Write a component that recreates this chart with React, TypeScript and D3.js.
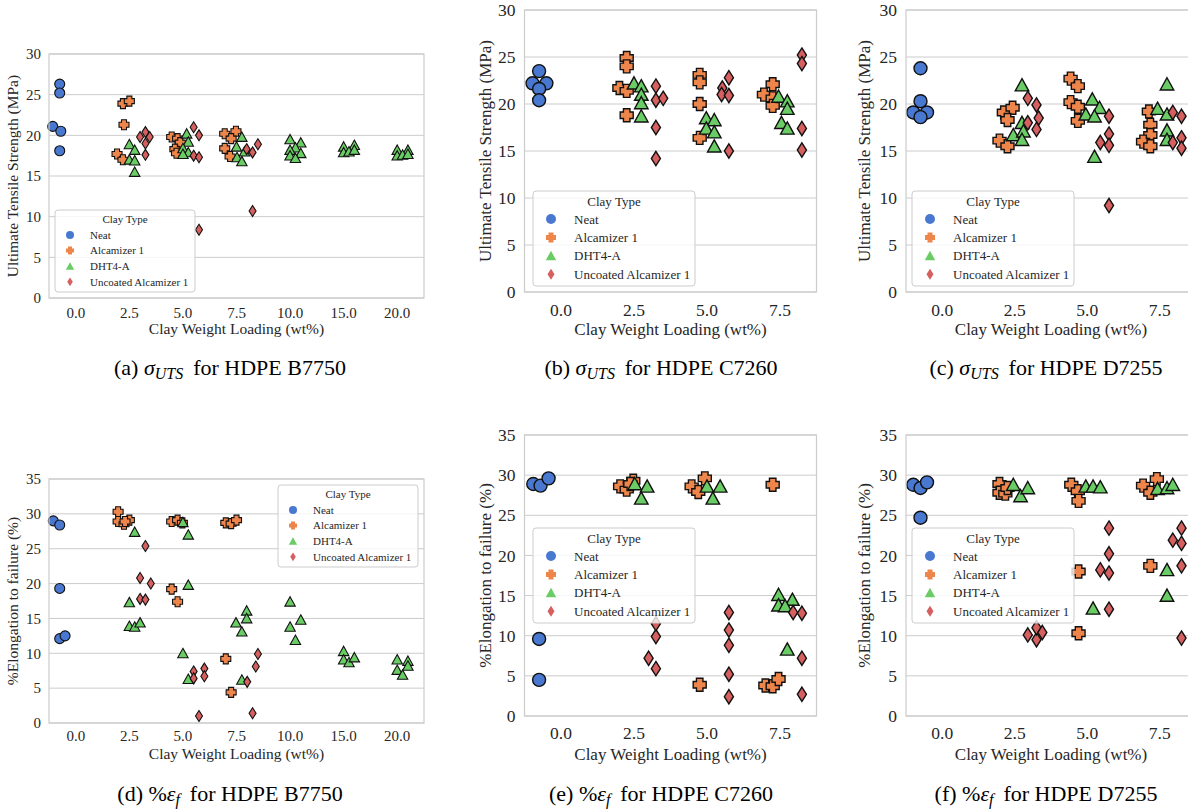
import React from 'react';
import * as d3 from 'd3';

type Pt = [number, number, number]; // [category index, value, swarm offset in category units]

const clayTypes = ['Neat', 'Alcamizer 1', 'DHT4-A', 'Uncoated Alcamizer 1'];
const colors = ['#4878d0', '#ee854a', '#6acc64', '#d65f5f'];
const catsWide = ['0.0', '2.5', '5.0', '7.5', '10.0', '15.0', '20.0'];
const catsNarrow = ['0.0', '2.5', '5.0', '7.5'];
const hueDodge = [-0.3, -0.1, 0.1, 0.3];

// (a) UTS, HDPE B7750
const aNeat: Pt[] = [[0, 21.1, -0.13], [0, 26.3, 0], [0, 25.2, 0], [0, 20.5, 0.02], [0, 18.1, 0]];
const aAlc: Pt[] = [[1, 23.9, -0.02], [1, 24.2, 0.1], [1, 21.3, 0], [1, 17.7, -0.13], [1, 17.0, -0.02],
  [2, 19.8, -0.11], [2, 19.6, 0], [2, 19.1, 0.05], [2, 18.3, -0.05], [2, 17.8, -0.02],
  [3, 20.2, -0.12], [3, 20.5, 0.09], [3, 19.6, 0], [3, 18.4, -0.12], [3, 17.4, -0.02]];
const aDht: Pt[] = [[1, 18.9, -0.1], [1, 18.2, 0], [1, 17.0, -0.1], [1, 16.9, 0], [1, 15.5, 0],
  [2, 20.2, -0.03], [2, 19.2, 0], [2, 18.4, -0.1], [2, 17.9, 0], [2, 17.7, -0.1],
  [3, 19.8, 0], [3, 18.6, -0.1], [3, 18.0, 0.05], [3, 17.3, -0.09], [3, 16.8, 0],
  [4, 19.5, -0.1], [4, 19.1, 0.1], [4, 18.5, 0], [4, 18.2, -0.1], [4, 17.8, 0.1], [4, 17.5, -0.1], [4, 17.2, 0],
  [5, 18.6, -0.1], [5, 18.8, 0.1], [5, 17.9, -0.1], [5, 18.0, 0], [5, 18.2, 0.1],
  [6, 18.2, -0.1], [6, 18.2, 0.1], [6, 17.5, -0.1], [6, 17.6, 0], [6, 17.7, 0.1]];
const aUnc: Pt[] = [[1, 19.8, -0.1], [1, 20.4, 0], [1, 19.8, 0.08], [1, 19.0, 0], [1, 17.6, 0],
  [2, 21.0, -0.1], [2, 20.0, 0], [2, 17.5, -0.1], [2, 17.3, 0], [2, 8.4, 0],
  [3, 18.3, -0.11], [3, 17.9, 0], [3, 18.9, 0.1], [3, 10.7, 0]];

// (b) UTS, HDPE C7260
const bNeat: Pt[] = [[0, 23.5, 0], [0, 22.2, -0.09], [0, 22.2, 0.1], [0, 21.6, 0], [0, 20.4, 0]];
const bAlc: Pt[] = [[1, 24.9, 0], [1, 24.0, 0], [1, 21.7, -0.1], [1, 21.4, 0], [1, 18.8, 0],
  [2, 23.1, 0], [2, 22.3, 0], [2, 20.0, 0], [2, 16.4, 0],
  [3, 22.1, 0], [3, 21.0, -0.12], [3, 20.6, 0], [3, 19.8, 0]];
const bDht: Pt[] = [[1, 22.2, -0.1], [1, 21.9, 0], [1, 21.0, 0], [1, 20.1, 0], [1, 18.7, 0],
  [2, 18.5, -0.11], [2, 18.3, 0], [2, 17.4, -0.11], [2, 17.0, 0], [2, 15.5, 0],
  [3, 20.8, -0.12], [3, 20.3, 0], [3, 19.5, 0], [3, 18.0, -0.08], [3, 17.4, 0]];
const bUnc: Pt[] = [[1, 21.9, 0], [1, 20.4, 0], [1, 20.6, 0.1], [1, 17.5, 0], [1, 14.2, 0],
  [2, 22.8, 0], [2, 21.7, -0.09], [2, 21.0, -0.1], [2, 20.9, 0], [2, 15.0, 0],
  [3, 25.2, 0], [3, 24.3, 0], [3, 17.4, 0], [3, 15.1, 0]];

// (c) UTS, HDPE D7255
const cNeat: Pt[] = [[0, 23.8, 0], [0, 20.3, 0], [0, 19.1, -0.1], [0, 19.1, 0.09], [0, 18.6, 0]];
const cAlc: Pt[] = [[1, 16.1, -0.11], [1, 15.5, 0], [1, 19.1, -0.05], [1, 19.6, 0.07], [1, 18.3, 0],
  [2, 22.7, -0.13], [2, 21.9, -0.03], [2, 20.2, -0.13], [2, 19.7, -0.03], [2, 18.2, -0.03],
  [3, 19.2, -0.05], [3, 17.8, -0.03], [3, 16.7, -0.03], [3, 16.0, -0.13], [3, 15.5, -0.03]];
const cDht: Pt[] = [[1, 22.0, 0], [1, 18.0, 0], [1, 16.7, -0.12], [1, 17.1, 0.02], [1, 16.2, 0],
  [2, 20.5, -0.03], [2, 19.6, 0.07], [2, 18.9, -0.12], [2, 18.7, 0], [2, 14.4, 0],
  [3, 22.1, 0], [3, 19.5, -0.13], [3, 18.9, 0], [3, 17.2, 0], [3, 16.2, 0]];
const cUnc: Pt[] = [[1, 20.6, -0.12], [1, 19.9, 0], [1, 18.5, 0.03], [1, 18.0, -0.12], [1, 17.3, 0],
  [2, 18.7, 0], [2, 16.8, 0], [2, 15.9, -0.12], [2, 15.6, 0], [2, 9.2, 0],
  [3, 19.1, -0.12], [3, 18.7, 0], [3, 15.9, -0.12], [3, 16.4, 0], [3, 15.3, 0]];

// (d) elongation, HDPE B7750
const dNeat: Pt[] = [[0, 29.0, -0.12], [0, 28.4, 0], [0, 19.3, 0], [0, 12.1, 0], [0, 12.5, 0.1]];
const dAlc: Pt[] = [[1, 30.3, -0.11], [1, 28.9, -0.11], [1, 28.5, 0], [1, 29.1, 0.1], [1, 28.9, 0.02],
  [2, 28.9, -0.11], [2, 29.1, 0], [2, 28.7, 0.09], [2, 19.2, -0.11], [2, 17.4, 0],
  [3, 28.7, -0.1], [3, 28.6, 0], [3, 29.1, 0.1], [3, 9.2, -0.1], [3, 4.4, 0]];
const dDht: Pt[] = [[1, 27.4, 0], [1, 17.3, -0.1], [1, 13.9, -0.1], [1, 13.8, 0], [1, 14.4, 0.1],
  [2, 28.8, -0.1], [2, 27.0, 0], [2, 19.8, 0], [2, 10.0, -0.1], [2, 6.3, 0],
  [3, 14.4, -0.11], [3, 13.1, 0], [3, 16.1, 0.09], [3, 15.0, 0.09], [3, 6.2, 0],
  [4, 17.4, -0.1], [4, 13.8, -0.1], [4, 14.8, 0.1], [4, 11.9, 0],
  [5, 10.3, -0.1], [5, 9.1, -0.1], [5, 8.7, 0], [5, 9.4, 0.1],
  [6, 9.1, -0.1], [6, 7.6, -0.1], [6, 6.9, 0], [6, 8.9, 0.1], [6, 8.2, 0.1]];
const dUnc: Pt[] = [[1, 25.4, 0], [1, 20.8, -0.1], [1, 20.0, 0.1], [1, 17.8, -0.1], [1, 17.7, 0],
  [2, 7.4, -0.1], [2, 6.4, -0.1], [2, 7.8, 0.1], [2, 6.7, 0.1], [2, 1.0, 0],
  [3, 5.9, -0.1], [3, 8.1, 0.06], [3, 9.9, 0.1], [3, 1.4, 0]];

// (e) elongation, HDPE C7260
const eNeat: Pt[] = [[0, 28.9, -0.08], [0, 28.7, 0.02], [0, 29.6, 0.13], [0, 9.6, 0], [0, 4.5, 0]];
const eAlc: Pt[] = [[1, 28.6, -0.09], [1, 28.2, 0], [1, 29.3, 0.09], [1, 28.9, 0.05],
  [2, 28.6, -0.11], [2, 27.9, -0.02], [2, 29.6, 0.07], [2, 3.9, 0],
  [3, 28.8, 0], [3, 3.8, -0.1], [3, 3.7, 0], [3, 4.6, 0.08]];
const eDht: Pt[] = [[1, 28.9, -0.09], [1, 28.6, 0.08], [1, 27.1, 0],
  [2, 28.6, -0.1], [2, 28.6, 0.08], [2, 27.1, -0.02],
  [3, 15.1, -0.12], [3, 13.8, -0.12], [3, 14.5, 0.07], [3, 13.7, -0.03], [3, 8.3, 0]];
const eUnc: Pt[] = [[1, 7.2, -0.1], [1, 5.9, 0], [1, 9.9, 0], [1, 11.5, 0],
  [2, 12.9, 0], [2, 10.7, 0], [2, 8.8, 0], [2, 5.2, 0], [2, 2.4, 0],
  [3, 12.9, -0.12], [3, 12.8, 0], [3, 7.2, 0], [3, 2.7, 0]];

// (f) elongation, HDPE D7255
const fNeat: Pt[] = [[0, 28.8, -0.1], [0, 28.4, 0], [0, 29.1, 0.09], [0, 24.7, 0]];
const fAlc: Pt[] = [[1, 28.9, -0.11], [1, 27.8, -0.11], [1, 27.7, -0.03], [1, 28.4, 0],
  [2, 28.8, -0.12], [2, 28.0, -0.03], [2, 26.8, -0.02], [2, 18.0, -0.02], [2, 10.3, -0.02],
  [3, 28.7, -0.13], [3, 27.8, -0.03], [3, 29.5, 0.06], [3, 18.7, -0.03]];
const fDht: Pt[] = [[1, 28.8, -0.12], [1, 27.4, -0.02], [1, 28.4, 0.08],
  [2, 28.6, -0.12], [2, 28.6, -0.02], [2, 28.5, 0.08], [2, 13.4, -0.02],
  [3, 28.3, -0.13], [3, 28.4, 0], [3, 28.8, 0.08], [3, 18.2, 0], [3, 15.0, 0]];
const fUnc: Pt[] = [[1, 10.1, -0.12], [1, 9.5, 0], [1, 11.0, 0], [1, 10.4, 0.08],
  [2, 23.4, 0], [2, 20.2, 0], [2, 18.2, -0.12], [2, 17.8, 0], [2, 13.3, 0],
  [3, 23.4, 0], [3, 21.9, -0.12], [3, 21.5, 0], [3, 18.7, 0], [3, 9.7, 0]];

const utsLabel = 'Ultimate Tensile Strength (MPa)';
const elongLabel = '%Elongation to failure (%)';
const xLabel = 'Clay Weight Loading (wt%)';

const FONT = "'Liberation Serif','Times New Roman',Times,serif";
const TEXT = '#262626';
const GRID = '#cccccc';

interface Style {
  tick: number; label: number; legend: number; marker: number; stroke: number;
  legW: number; legH: number; titleDy: number; entry0: number; entryStep: number;
  legMarkX: number; legTextX: number; legMarker: number; tickPad: number;
}
const small: Style = { tick: 15, label: 15.5, legend: 11, marker: 10, stroke: 1.1, legW: 140, legH: 82, titleDy: 9, entry0: 25, entryStep: 15.6, legMarkX: 15, legTextX: 35, legMarker: 8, tickPad: 8 };
const large: Style = { tick: 17.5, label: 17, legend: 13, marker: 13, stroke: 1.4, legW: 162, legH: 95, titleDy: 10.5, entry0: 28, entryStep: 18.4, legMarkX: 18, legTextX: 41, legMarker: 10, tickPad: 9 };

interface PanelDef {
  cats: string[]; yMax: number; series: Pt[][]; yLabel: string;
  cap: { tag: string; pre: string; sym: string; sub: string; rest: string };
  left: number; right: number; top: number; bottom: number;
  yLabelX: number; xTickY: number; xLabelY: number; capX: number; capY: number;
  legX: number; legY: number; st: Style;
}

const panels: PanelDef[] = [
  { cats: catsWide, yMax: 30, series: [aNeat, aAlc, aDht, aUnc], yLabel: utsLabel,
    cap: { tag: '(a) ', pre: '', sym: 'σ', sub: 'UTS', rest: ' for HDPE B7750' },
    left: 49, right: 424, top: 54, bottom: 298, yLabelX: 13, xTickY: 313, xLabelY: 329, capX: 230, capY: 367,
    legX: 55, legY: 210, st: small },
  { cats: catsNarrow, yMax: 30, series: [bNeat, bAlc, bDht, bUnc], yLabel: utsLabel,
    cap: { tag: '(b) ', pre: '', sym: 'σ', sub: 'UTS', rest: ' for HDPE C7260' },
    left: 524.5, right: 816.5, top: 10, bottom: 292, yLabelX: 485, xTickY: 310, xLabelY: 329, capX: 661, capY: 367,
    legX: 533, legY: 191, st: large },
  { cats: catsNarrow, yMax: 30, series: [cNeat, cAlc, cDht, cUnc], yLabel: utsLabel,
    cap: { tag: '(c) ', pre: '', sym: 'σ', sub: 'UTS', rest: ' for HDPE D7255' },
    left: 906, right: 1196, top: 10, bottom: 292, yLabelX: 864, xTickY: 310, xLabelY: 329, capX: 1046, capY: 367,
    legX: 912, legY: 191, st: large },
  { cats: catsWide, yMax: 35, series: [dNeat, dAlc, dDht, dUnc], yLabel: elongLabel,
    cap: { tag: '(d) ', pre: '%', sym: 'ε', sub: 'f', rest: ' for HDPE B7750' },
    left: 49, right: 424, top: 479, bottom: 723, yLabelX: 13, xTickY: 736, xLabelY: 754, capX: 230, capY: 793,
    legX: 278, legY: 485, st: small },
  { cats: catsNarrow, yMax: 35, series: [eNeat, eAlc, eDht, eUnc], yLabel: elongLabel,
    cap: { tag: '(e) ', pre: '%', sym: 'ε', sub: 'f', rest: ' for HDPE C7260' },
    left: 524.5, right: 816.5, top: 435, bottom: 716, yLabelX: 485, xTickY: 733, xLabelY: 754, capX: 661, capY: 793,
    legX: 533, legY: 528, st: large },
  { cats: catsNarrow, yMax: 35, series: [fNeat, fAlc, fDht, fUnc], yLabel: elongLabel,
    cap: { tag: '(f) ', pre: '%', sym: 'ε', sub: 'f', rest: ' for HDPE D7255' },
    left: 906, right: 1196, top: 435, bottom: 716, yLabelX: 864, xTickY: 733, xLabelY: 754, capX: 1046, capY: 793,
    legX: 912, legY: 528, st: large },
];

function poly(pts: number[][]): string {
  return 'M' + pts.map(p => `${p[0].toFixed(2)},${p[1].toFixed(2)}`).join('L') + 'Z';
}

function markerPath(kind: number, s: number): string {
  const h = s / 2;
  if (kind === 0) {
    const p = d3.path();
    p.arc(0, 0, h, 0, Math.PI * 2);
    p.closePath();
    return p.toString();
  }
  if (kind === 1) {
    const q = s / 4;
    return poly([[-q, -h], [q, -h], [q, -q], [h, -q], [h, q], [q, q], [q, h], [-q, h], [-q, q], [-h, q], [-h, -q], [-q, -q]]);
  }
  if (kind === 2) {
    return poly([[0, -0.5 * s], [0.52 * s, 0.44 * s], [-0.52 * s, 0.44 * s]]);
  }
  return poly([[0, -0.55 * s], [0.35 * s, 0], [0, 0.55 * s], [-0.35 * s, 0]]);
}

function PanelView({ p }: { p: PanelDef }) {
  const st = p.st;
  const x = d3.scaleLinear().domain([-0.5, p.cats.length - 0.5]).range([p.left, p.right]);
  const y = d3.scaleLinear().domain([0, p.yMax]).range([p.bottom, p.top]);
  const yTicks = d3.range(0, p.yMax + 0.001, 5);
  const midY = (p.top + p.bottom) / 2;
  const midX = (p.left + p.right) / 2;
  return (
    <g>
      {yTicks.map(t => (
        <line key={'g' + t} x1={p.left} x2={p.right} y1={y(t)} y2={y(t)} stroke={GRID} strokeWidth={1} />
      ))}
      {p.series.map((ser, hi) => (
        <g key={'s' + hi}>
          {ser.map((d, i) => (
            <path key={i} d={markerPath(hi, st.marker)}
              transform={`translate(${x(d[0] + hueDodge[hi] + d[2]).toFixed(2)},${y(d[1]).toFixed(2)})`}
              fill={colors[hi]} stroke="#111" strokeWidth={st.stroke} strokeLinejoin="miter" />
          ))}
        </g>
      ))}
      <rect x={p.left} y={p.top} width={p.right - p.left} height={p.bottom - p.top} fill="none" stroke={GRID} strokeWidth={1.2} />
      {yTicks.map(t => (
        <text key={'yt' + t} x={p.left - st.tickPad} y={y(t)} dy="0.35em" textAnchor="end" fontSize={st.tick} fill={TEXT}>{t}</text>
      ))}
      {p.cats.map((c, i) => (
        <text key={'xt' + c} x={x(i)} y={p.xTickY} dy="0.35em" textAnchor="middle" fontSize={st.tick} fill={TEXT}>{c}</text>
      ))}
      <text x={midX} y={p.xLabelY} dy="0.35em" textAnchor="middle" fontSize={st.label} fill={TEXT}>{xLabel}</text>
      <text transform={`translate(${p.yLabelX},${midY}) rotate(-90)`} dy="0.35em" textAnchor="middle" fontSize={st.label} fill={TEXT}>{p.yLabel}</text>
      <g transform={`translate(${p.legX},${p.legY})`}>
        <rect x={0} y={0} width={st.legW} height={st.legH} rx={3} fill="#ffffff" fillOpacity={0.8} stroke={GRID} strokeWidth={1} />
        <text x={st.legW / 2} y={st.titleDy} dy="0.35em" textAnchor="middle" fontSize={st.legend} fill={TEXT}>Clay Type</text>
        {clayTypes.map((name, i) => (
          <g key={name} transform={`translate(0,${st.entry0 + i * st.entryStep})`}>
            <path d={markerPath(i, st.legMarker)} transform={`translate(${st.legMarkX},0)`} fill={colors[i]} />
            <text x={st.legTextX} y={0} dy="0.35em" fontSize={st.legend} fill={TEXT}>{name}</text>
          </g>
        ))}
      </g>
      <text x={p.capX} y={p.capY} dy="0.35em" textAnchor="middle" fontSize={22} fill="#000">
        {p.cap.tag}{p.cap.pre}
        <tspan fontStyle="italic">{p.cap.sym}</tspan>
        <tspan fontStyle="italic" fontSize={16} dy={4.5}>{p.cap.sub}</tspan>
        <tspan dy={-4.5}>{'\u2009' + p.cap.rest}</tspan>
      </text>
    </g>
  );
}

export default function App() {
  return (
    <svg width={1188} height={810} viewBox="0 0 1188 810"
      style={{ position: 'absolute', left: 0, top: 0, background: '#fff', fontFamily: FONT }}>
      <rect x={0} y={0} width={1188} height={810} fill="#fff" />
      {panels.map((p, i) => <PanelView key={i} p={p} />)}
    </svg>
  );
}
